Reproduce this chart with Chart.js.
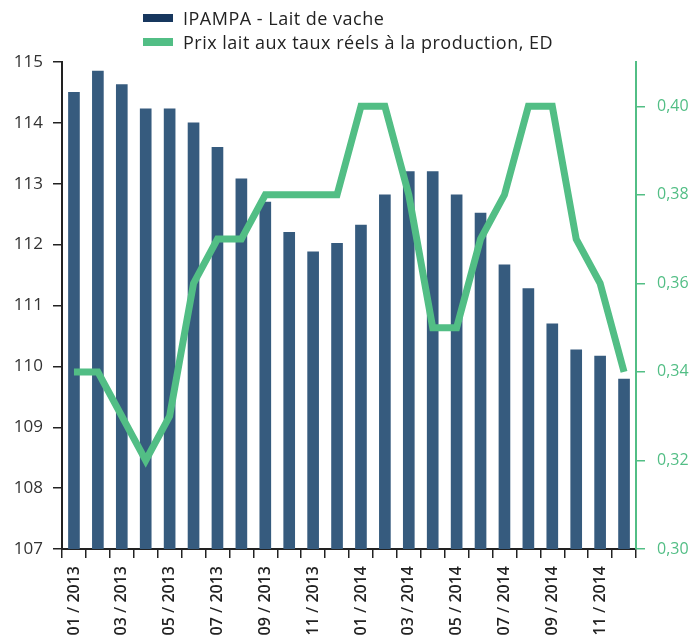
<!DOCTYPE html>
<html lang="fr">
<head>
    <meta charset="UTF-8">
    <title>IPAMPA - Lait de vache</title>
    <script src="https://cdn.jsdelivr.net/npm/chart.js@4.4.1/dist/chart.umd.min.js"></script>
    <style>
        html, body { margin: 0; padding: 0; background: #fff; overflow: hidden; }
        #wrap { position: relative; width: 696px; height: 660px; }
        #legend {
            position: absolute; left: 143px; top: 6px;
            font-family: "Open Sans", sans-serif; font-size: 18px; color: #222;
            letter-spacing: 0.5px;
        }
        #legend .item { display: flex; align-items: center; height: 24px; }
        #legend .box { width: 30px; height: 8px; margin-right: 10px; }
    </style>
</head>
<body>
<div id="wrap">
    <div id="legend"></div>
    <canvas id="myChart"></canvas>
</div>

<script>
    // months on the x axis (every other one is labelled)
    const categories = [
        '01 / 2013', '02 / 2013', '03 / 2013', '04 / 2013', '05 / 2013', '06 / 2013',
        '07 / 2013', '08 / 2013', '09 / 2013', '10 / 2013', '11 / 2013', '12 / 2013',
        '01 / 2014', '02 / 2014', '03 / 2014', '04 / 2014', '05 / 2014', '06 / 2014',
        '07 / 2014', '08 / 2014', '09 / 2014', '10 / 2014', '11 / 2014', '12 / 2014'
    ];

    // IPAMPA - Lait de vache (left axis)
    const ipampa = [
        114.5, 114.85, 114.63, 114.23, 114.23, 114.0,
        113.6, 113.08, 112.7, 112.2, 111.88, 112.02,
        112.32, 112.82, 113.2, 113.2, 112.82, 112.52,
        111.67, 111.28, 110.7, 110.27, 110.17, 109.79
    ];

    // Prix lait aux taux reels a la production, ED (right axis)
    const prix = [
        0.34, 0.34, 0.33, 0.32, 0.33, 0.36,
        0.37, 0.37, 0.38, 0.38, 0.38, 0.38,
        0.40, 0.40, 0.38, 0.35, 0.35, 0.37,
        0.38, 0.40, 0.40, 0.37, 0.36, 0.34
    ];

    const barColor = '#365B7E';
    const barLegendColor = '#17375E';
    const lineColor = '#52BE85';
    const axisColor = '#222';

    function fmtComma(v) {
        return v.toFixed(2).replace('.', ',');
    }

    const config = {
        type: 'bar',
        data: {
            labels: categories,
            datasets: [
                {
                    type: 'line',
                    label: 'Prix lait aux taux réels à la production, ED',
                    data: prix,
                    yAxisID: 'y2',
                    borderColor: lineColor,
                    backgroundColor: lineColor,
                    borderWidth: 7,
                    pointRadius: 0,
                    tension: 0,
                    order: 0
                },
                {
                    type: 'bar',
                    label: 'IPAMPA - Lait de vache',
                    data: ipampa,
                    yAxisID: 'y',
                    backgroundColor: barColor,
                    barThickness: 11,
                    order: 1
                }
            ]
        },
        options: {
            responsive: true,
            maintainAspectRatio: false,
            animation: false,
            layout: { padding: { top: 62, left: 0, right: 0, bottom: 0 } },
            plugins: {
                legend: { display: false },
                tooltip: { enabled: false }
            },
            scales: {
                x: {
                    offset: true,
                    border: { color: axisColor, width: 2 },
                    grid: { drawOnChartArea: false, drawTicks: true, tickLength: 9, tickColor: axisColor, offset: true, lineWidth: 1.5 },
                    ticks: {
                        autoSkip: false,
                        maxRotation: 90,
                        minRotation: 90,
                        padding: 8,
                        color: axisColor,
                        font: { family: 'Open Sans', size: 16, weight: '600' },
                        callback: function (value, index) {
                            return index % 2 === 0 ? categories[index] : '';
                        }
                    },
                    afterFit: function (scale) { scale.height = 111; }
                },
                y: {
                    position: 'left',
                    min: 107,
                    max: 115,
                    border: { color: axisColor, width: 2 },
                    grid: { drawOnChartArea: false, drawTicks: true, tickLength: 9, tickColor: axisColor, lineWidth: 1.5 },
                    ticks: { stepSize: 1, padding: 10, color: '#333', font: { family: 'Open Sans', size: 17 } },
                    afterFit: function (scale) { scale.width = 62; }
                },
                y2: {
                    position: 'right',
                    min: 0.30,
                    max: 0.41,
                    border: { color: lineColor, width: 2 },
                    grid: { drawOnChartArea: false, drawTicks: true, tickLength: 9, tickColor: lineColor, lineWidth: 1.5 },
                    ticks: {
                        stepSize: 0.02,
                        includeBounds: false,
                        padding: 12,
                        color: lineColor,
                        font: { family: 'Open Sans', size: 16 },
                        callback: function (value) { return fmtComma(value); }
                    },
                    afterFit: function (scale) { scale.width = 60; }
                }
            }
        }
    };

    const myChart = new Chart(document.getElementById('myChart'), config);

    // html legend, stacked like the original
    const legendColors = [barLegendColor, lineColor];
    const legendOrder = [1, 0];
    const legendEl = document.getElementById('legend');
    legendOrder.forEach(function (dsIndex, i) {
        const item = document.createElement('div');
        item.className = 'item';
        const box = document.createElement('span');
        box.className = 'box';
        box.style.background = legendColors[i];
        const txt = document.createElement('span');
        txt.textContent = myChart.data.datasets[dsIndex].label;
        item.appendChild(box);
        item.appendChild(txt);
        legendEl.appendChild(item);
    });
</script>
</body>
</html>
